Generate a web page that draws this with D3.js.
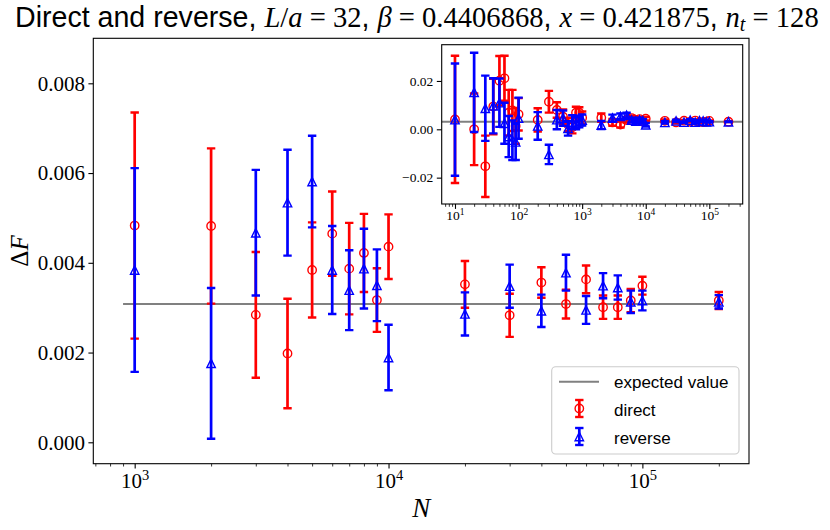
<!DOCTYPE html>
<html><head><meta charset="utf-8">
<script src="https://cdn.jsdelivr.net/npm/d3@7"></script>
<style>body{margin:0;background:#fff} svg{display:block}</style>
</head><body>
<svg id="c" width="830" height="530"></svg>
<script>
// ---------------- data ----------------
const N = [10,20,30,40,50,60,70,80,90,100,200,300,400,500,600,700,800,900,
  1000,2000,3000,4000,5000,6000,7000,8000,9000,10000,
  20000,30000,40000,50000,60000,70000,80000,90000,100000,200000];
const directMean = [0.0041,0.0000,-0.0153,0.0094,0.0201,0.0211,0.0069,0.0078,0.0014,0.0062,
  0.0039,0.0114,0.0080,0.0052,0.0020,0.0008,0.0069,0.0069,
  0.00483,0.00482,0.00284,0.00198,0.00384,0.00465,0.00387,0.00422,0.00317,0.00436,
  0.00352,0.00283,0.00356,0.00308,0.00363,0.00301,0.00301,0.00316,0.00349,0.00316];
const directErr = [0.0263,0.0148,0.0127,0.0115,0.0102,0.0093,0.0094,0.0085,0.0074,0.0067,
  0.0048,0.0045,0.0032,0.0030,0.0028,0.0025,0.0024,0.0022,
  0.00252,0.00173,0.00140,0.00122,0.00106,0.00094,0.00102,0.00087,0.00071,0.00072,
  0.00052,0.00048,0.00034,0.00032,0.00031,0.00026,0.00026,0.00026,0.00020,0.00019];
const reverseMean = [0.0040,0.0153,0.0087,0.0097,0.0110,0.0025,-0.0030,-0.0045,-0.0052,0.0046,
  0.0014,-0.0104,0.0040,0.0046,0.0004,0.0030,0.0025,0.0032,
  0.00384,0.00176,0.00467,0.00534,0.00581,0.00384,0.00339,0.00387,0.00350,0.00189,
  0.00286,0.00348,0.00293,0.00378,0.00295,0.00349,0.00345,0.00313,0.00316,0.00313];
const reverseErr = [0.0232,0.0164,0.0135,0.0114,0.0100,0.0085,0.0085,0.0082,0.0075,0.0085,
  0.0057,0.0040,0.0040,0.0032,0.0030,0.0028,0.0025,0.0024,
  0.00227,0.00168,0.00140,0.00118,0.00102,0.00098,0.00089,0.00089,0.00080,0.00073,
  0.00048,0.00048,0.00036,0.00040,0.00031,0.00028,0.00027,0.00025,0.00022,0.00015];
const expectedValue = 0.00308;
const expectedRange = [900, 200000];
const mainMinN = 1000;
const mainYTicks = [0, 0.002, 0.004, 0.006, 0.008];
const insetYTicks = [-0.02, 0, 0.02];
const mainXMajor = [1e3, 1e4, 1e5];
const insetXMajor = [1e1, 1e2, 1e3, 1e4, 1e5];
const legendLabels = ["expected value", "direct", "reverse"];

// ---------------- layout ----------------
const SERIF = "'Liberation Serif', 'DejaVu Serif', serif";
const SANS = "'Liberation Sans', 'DejaVu Sans', sans-serif";
const RED = "#ff0000", BLUE = "#0000ff", GRAY = "#808080";
const svg = d3.select("#c");
const M = {l:93.3, r:749, t:38.3, b:463.7};
const I = {l:441.7, r:742.7, t:44.7, b:204};

const xMain = d3.scaleLog().domain([Math.pow(10,2.837), Math.pow(10,5.420)]).range([M.l,M.r]);
const yMain = d3.scaleLinear().domain([-0.000477,0.009003]).range([M.b,M.t]);
const xIn = d3.scaleLog().domain([Math.pow(10,0.791), Math.pow(10,5.525)]).range([I.l,I.r]);
const yIn = d3.scaleLinear().domain([-0.0309,0.0350]).range([I.b,I.t]);

const rows = N.map((n,i)=>({n, d:directMean[i], de:directErr[i], r:reverseMean[i], re:reverseErr[i]}));

function minorTicks(scale){
  const [a,b] = scale.domain(); const out=[];
  for(let e=Math.floor(Math.log10(a)); e<=Math.ceil(Math.log10(b)); e++){
    for(let m=2;m<=9;m++){ const v=m*Math.pow(10,e); if(v>=a&&v<=b) out.push(v); }
  }
  return out;
}

function drawMarker(g, x, y, color, type){
  const s = 4.2;
  if(type==="circle"){
    g.append("circle").attr("cx",x).attr("cy",y).attr("r",s)
      .attr("fill","none").attr("stroke",color).attr("stroke-width",1.4);
  } else {
    g.append("path").attr("d",`M${x},${y-s}L${x-s},${y+s}L${x+s},${y+s}Z`)
      .attr("fill","none").attr("stroke",color).attr("stroke-width",1.4).attr("stroke-linejoin","miter");
  }
}
function drawErr(g, x, y0, y1, color){
  g.append("line").attr("x1",x).attr("x2",x).attr("y1",y0).attr("y2",y1)
    .attr("stroke",color).attr("stroke-width",2.7);
  [y0,y1].forEach(yy=>g.append("line").attr("x1",x-4.2).attr("x2",x+4.2).attr("y1",yy).attr("y2",yy)
    .attr("stroke",color).attr("stroke-width",2.4));
}
function drawSeries(g, xs, ys, data, mk, ek, color, type){
  data.forEach(r=>{
    const x = xs(r.n);
    drawErr(g, x, ys(r[mk]-r[ek]), ys(r[mk]+r[ek]), color);
    drawMarker(g, x, ys(r[mk]), color, type);
  });
}

function drawAxes(g, xs, ys, box, xMajor, yTicks, yFmt, fs, supFs, xLabelDy){
  // y axis
  const ya = g.append("g").attr("transform",`translate(${box.l},0)`)
    .call(d3.axisLeft(ys).tickValues(yTicks).tickFormat(yFmt).tickSize(4.9).tickPadding(3.5).tickSizeOuter(0));
  ya.select(".domain").remove();
  ya.selectAll("line").attr("stroke","#000").attr("stroke-width",1.1);
  ya.selectAll("text").attr("font-family",SERIF).attr("font-size",fs).attr("fill","#000");
  // x minor
  const xm = g.append("g").attr("transform",`translate(0,${box.b})`)
    .call(d3.axisBottom(xs).tickValues(minorTicks(xs)).tickFormat("").tickSize(2.8).tickSizeOuter(0));
  xm.select(".domain").remove();
  xm.selectAll("line").attr("stroke","#000").attr("stroke-width",0.8);
  // x major
  const xa = g.append("g").attr("transform",`translate(0,${box.b})`)
    .call(d3.axisBottom(xs).tickValues(xMajor).tickFormat(d=>"").tickSize(4.9).tickSizeOuter(0));
  xa.select(".domain").remove();
  xa.selectAll("line").attr("stroke","#000").attr("stroke-width",1.1);
  xa.selectAll(".tick").each(function(d){
    const t = d3.select(this).select("text").text(null)
      .attr("y", xLabelDy).attr("dy",null)
      .attr("font-family",SERIF).attr("font-size",fs).attr("fill","#000").attr("text-anchor","middle");
    t.append("tspan").text("10");
    t.append("tspan").attr("font-size",supFs).attr("dy",-fs*0.38).text(String(Math.round(Math.log10(d))));
  });
  // frame
  g.append("rect").attr("x",box.l).attr("y",box.t).attr("width",box.r-box.l).attr("height",box.b-box.t)
    .attr("fill","none").attr("stroke","#000").attr("stroke-width",1.1);
}

// ---------------- main axes ----------------
const main = svg.append("g");
main.append("defs").append("clipPath").attr("id","clipM").append("rect")
  .attr("x",M.l).attr("y",M.t).attr("width",M.r-M.l).attr("height",M.b-M.t);
const mplot = main.append("g").attr("clip-path","url(#clipM)");
mplot.append("line").attr("x1",xMain(expectedRange[0])).attr("x2",xMain(expectedRange[1]))
  .attr("y1",yMain(expectedValue)).attr("y2",yMain(expectedValue)).attr("stroke",GRAY).attr("stroke-width",2);
const mainRows = rows.filter(r=>r.n>=mainMinN);
drawSeries(mplot.append("g"), xMain, yMain, mainRows, "d","de", RED, "circle");
drawSeries(mplot.append("g"), xMain, yMain, mainRows, "r","re", BLUE, "tri");
drawAxes(main, xMain, yMain, M, mainXMajor, mainYTicks, d3.format(".3f"), 21, 14.5, 24);

// axis labels
const yl = svg.append("text").attr("transform",`translate(28,${(M.t+M.b)/2}) rotate(-90)`)
  .attr("text-anchor","middle").attr("font-family",SERIF).attr("font-size",25);
yl.append("tspan").text("Δ");
yl.append("tspan").attr("font-style","italic").text("F");
svg.append("text").attr("x",(M.l+M.r)/2).attr("y",517).attr("text-anchor","middle")
  .attr("font-family",SERIF).attr("font-size",27).attr("font-style","italic").text("N");

// ---------------- legend ----------------
const lg = svg.append("g");
lg.append("rect").attr("x",551.7).attr("y",366.7).attr("width",187.3).attr("height",87.3).attr("rx",4)
  .attr("fill","#fff").attr("fill-opacity",0.8).attr("stroke","#cccccc").attr("stroke-width",1.1);
lg.append("line").attr("x1",559).attr("x2",599).attr("y1",381.7).attr("y2",381.7).attr("stroke",GRAY).attr("stroke-width",2);
drawErr(lg, 579.3, 400, 417, RED); drawMarker(lg, 579.3, 408.5, RED, "circle");
drawErr(lg, 579.3, 428, 445, BLUE); drawMarker(lg, 579.3, 436.5, BLUE, "tri");
[388.3, 415.5, 443.5].forEach((yy,i)=>lg.append("text").attr("x",614).attr("y",yy)
  .attr("font-family",SANS).attr("font-size",17).text(legendLabels[i]));

// ---------------- inset ----------------
const ins = svg.append("g");
ins.append("rect").attr("x",I.l).attr("y",I.t).attr("width",I.r-I.l).attr("height",I.b-I.t).attr("fill","#fff");
ins.append("defs").append("clipPath").attr("id","clipI").append("rect")
  .attr("x",I.l).attr("y",I.t).attr("width",I.r-I.l).attr("height",I.b-I.t);
const iplot = ins.append("g").attr("clip-path","url(#clipI)");
iplot.append("line").attr("x1",I.l).attr("x2",I.r)
  .attr("y1",yIn(expectedValue)).attr("y2",yIn(expectedValue)).attr("stroke",GRAY).attr("stroke-width",2);
drawSeries(iplot.append("g"), xIn, yIn, rows, "d","de", RED, "circle");
drawSeries(iplot.append("g"), xIn, yIn, rows, "r","re", BLUE, "tri");
drawAxes(ins, xIn, yIn, I, insetXMajor, insetYTicks, d3.format(".2f"), 13.5, 9.5, 16);

// ---------------- title ----------------
const title = svg.append("text").attr("x",0).attr("y",27).attr("font-size",22).attr("font-family",SERIF);
const parts = [
  ["Direct and reverse, ","sans"],["L","it"],["/","rm"],["a","it"],[" = 32","rm"],[", ","sans"],
  ["β","it"],[" = 0.4406868","rm"],[", ","sans"],["x","it"],[" = 0.421875","rm"],[", ","sans"],
  ["n","it"],["t","sub"],[" = 128","rm"]
];
parts.forEach(([s,k])=>{
  const t = title.append("tspan").text(s);
  if(k==="sans") t.attr("font-family",SANS);
  if(k==="it") t.attr("font-style","italic");
  if(k==="sub") t.attr("font-style","italic").attr("font-size","0.7em").attr("dy",4);
  if(k==="rm" && s.startsWith(" = 128")) t.attr("dy",-4);
});
(function fit(){
  const bb = title.node().getBBox();
  const target = 804, fsz = 22*target/bb.width;
  title.attr("font-size",fsz);
  const bb2 = title.node().getBBox();
  title.attr("x", 15 - bb2.x);
})();
</script>
</body></html>
